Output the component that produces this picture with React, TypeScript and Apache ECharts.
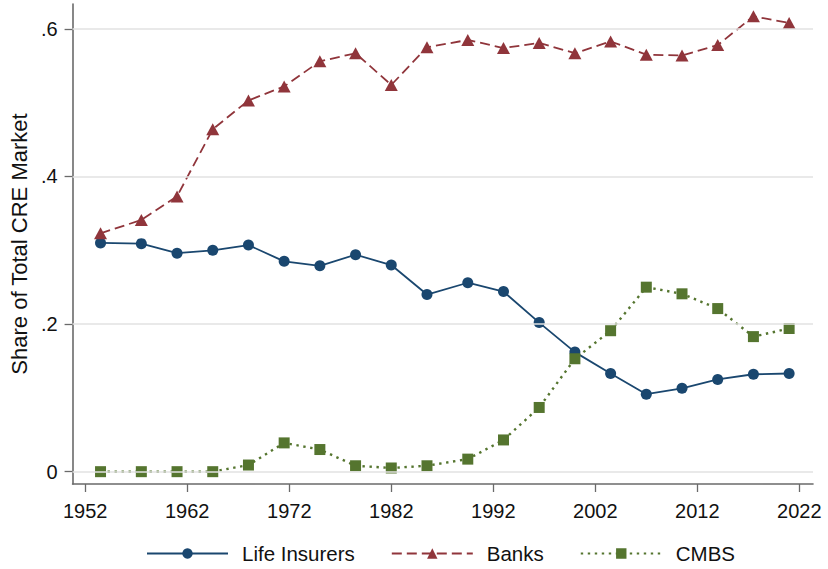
import React, { useEffect, useRef } from "react";
import * as echarts from "echarts";

const years = [1953.5, 1957.5, 1961, 1964.5, 1968, 1971.5, 1975, 1978.5, 1982, 1985.5, 1989.5, 1993, 1996.5, 2000, 2003.5, 2007, 2010.5, 2014, 2017.5, 2021];
const lifeInsurers = [0.310, 0.309, 0.296, 0.300, 0.307, 0.285, 0.279, 0.294, 0.280, 0.240, 0.256, 0.244, 0.202, 0.162, 0.133, 0.105, 0.113, 0.125, 0.132, 0.133];
const banks = [0.323, 0.341, 0.373, 0.464, 0.503, 0.522, 0.556, 0.567, 0.524, 0.575, 0.585, 0.574, 0.581, 0.567, 0.583, 0.565, 0.564, 0.578, 0.617, 0.608];
const cmbs = [0.0, 0.0, 0.0, 0.0, 0.009, 0.039, 0.030, 0.008, 0.005, 0.008, 0.017, 0.043, 0.087, 0.153, 0.191, 0.250, 0.241, 0.221, 0.183, 0.194];
const xTicks = [1952, 1962, 1972, 1982, 1992, 2002, 2012, 2022];
const yTicks = [0, 0.2, 0.4, 0.6];

const FONT = '"Liberation Sans", Arial, sans-serif';

export default function App() {
  const ref = useRef<HTMLDivElement>(null);
  useEffect(() => {
    if (!ref.current) return;
    const chart = echarts.init(ref.current, null, { renderer: "svg" });
    const axisColor = "#6a6a6a";
    chart.setOption({
      animation: false,
      backgroundColor: "#ffffff",
      textStyle: { fontFamily: FONT },
      grid: { left: 70, right: 15, top: 4, bottom: 85, containLabel: false },
      legend: {
        data: ["Life Insurers", "Banks", "CMBS"],
        left: 146,
        top: 543,
        padding: 0,
        itemWidth: 81,
        itemHeight: 13,
        itemGap: 36,
        textStyle: { fontFamily: FONT, fontSize: 20.5, color: "#111", padding: [0, 0, 0, 9] },
      },
      xAxis: {
        type: "value",
        min: 1950.76,
        max: 2023.34,
        axisLine: { show: true, onZero: false, lineStyle: { color: axisColor, width: 1.6 } },
        axisTick: { show: true, length: 8, customValues: xTicks, lineStyle: { color: axisColor, width: 1.3 } },
        axisLabel: { customValues: xTicks, fontSize: 20, color: "#111", margin: 17, fontFamily: FONT, formatter: (v: number) => String(v) },
        splitLine: { show: false },
      },
      yAxis: {
        type: "value",
        min: -0.0167,
        max: 0.6337,
        name: "Share of Total CRE Market",
        nameLocation: "middle",
        nameGap: 40,
        nameRotate: 90,
        nameTextStyle: { fontSize: 22, color: "#111", fontFamily: FONT },
        axisLine: { show: true, onZero: false, lineStyle: { color: axisColor, width: 1.6 } },
        axisTick: { show: true, length: 8, customValues: yTicks, lineStyle: { color: axisColor, width: 1.3 } },
        axisLabel: {
          customValues: yTicks,
          fontSize: 20,
          color: "#111",
          margin: 15,
          fontFamily: FONT,
          formatter: (v: number) => (v === 0 ? "0" : String(v).replace(/^0/, "")),
        },
        splitLine: { show: false },
      },
      series: [
        {
          name: "gridlines",
          type: "line",
          data: [],
          z: 0,
          silent: true,
          markLine: {
            silent: true,
            animation: false,
            symbol: ["none", "none"],
            label: { show: false },
            lineStyle: { color: "#e2e2e2", width: 1.6, type: "solid" },
            emphasis: { disabled: true },
            data: yTicks.map((v) => ({ yAxis: v })),
          },
        },
        {
          name: "Life Insurers",
          type: "line",
          z: 3,
          data: years.map((y, i) => [y, lifeInsurers[i]]),
          symbol: "circle",
          symbolSize: 11,
          lineStyle: { color: "#1a476f", width: 1.8, type: "solid" },
          itemStyle: { color: "#1a476f" },
        },
        {
          name: "Banks",
          type: "line",
          z: 3,
          data: years.map((y, i) => [y, banks[i]]),
          symbol: "triangle",
          symbolSize: [13, 12],
          lineStyle: { color: "#90353b", width: 1.8, type: [10, 5] },
          itemStyle: { color: "#90353b" },
        },
        {
          name: "CMBS",
          type: "line",
          z: 3,
          data: years.map((y, i) => [y, cmbs[i]]),
          symbol: "rect",
          symbolSize: 11,
          lineStyle: { color: "#55752f", width: 2.4, type: [2.4, 4.6] },
          itemStyle: { color: "#55752f" },
        },
      ],
    });
    return () => chart.dispose();
  }, []);
  return <div ref={ref} style={{ width: 828, height: 569, position: "absolute", left: 0, top: 0 }} />;
}
